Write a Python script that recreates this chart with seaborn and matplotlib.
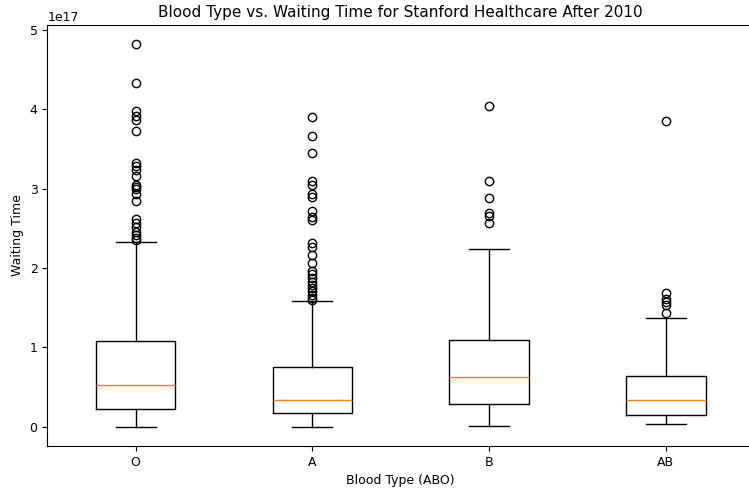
import numpy as np
import matplotlib
matplotlib.use("Agg")
import matplotlib.pyplot as plt
import seaborn as sns

sns.reset_defaults()
plt.rcParams["font.size"] = 9
plt.rcParams["axes.titlesize"] = 11

categories = ["O", "A", "B", "AB"]
scale = 1e17
whisker_low = [0.0, 0.004, 0.013, 0.038]
q1 = [0.227, 0.173, 0.29, 0.151]
median = [0.53, 0.34, 0.634, 0.344]
q3 = [1.085, 0.748, 1.096, 0.642]
whisker_high = [2.33, 1.59, 2.24, 1.365]

fliers_O = [4.82, 4.33, 3.98, 3.92, 3.87, 3.72, 3.32, 3.28, 3.24, 3.16, 3.05, 3.02,
            3.00, 2.93, 2.84, 2.62, 2.57, 2.52, 2.46, 2.42, 2.38, 2.35]
fliers_A = [3.90, 3.66, 3.45, 3.10, 3.05, 2.93, 2.90, 2.72, 2.64, 2.60, 2.31, 2.26,
            2.17, 2.06, 1.96, 1.92, 1.88, 1.83, 1.79, 1.75, 1.71, 1.66, 1.62, 1.60]
fliers_B = [4.04, 3.10, 2.88, 2.69, 2.66, 2.57]
fliers_AB = [3.85, 1.69, 1.61, 1.57, 1.54, 1.44]
fliers = [fliers_O, fliers_A, fliers_B, fliers_AB]

stats = []
for i, c in enumerate(categories):
    stats.append(dict(
        label=c,
        whislo=whisker_low[i] * scale,
        q1=q1[i] * scale,
        med=median[i] * scale,
        q3=q3[i] * scale,
        whishi=whisker_high[i] * scale,
        fliers=np.array(fliers[i]) * scale,
    ))

fig = plt.figure(figsize=(7.49, 4.90), dpi=100)
ax = fig.add_axes([47.3 / 749, 44 / 490, 706.8 / 749, 421 / 490])
ax.bxp(stats)
ax.set_title("Blood Type vs. Waiting Time for Stanford Healthcare After 2010")
ax.set_xlabel("Blood Type (ABO)")
ax.set_ylabel("Waiting Time")
fig.savefig("out.png", dpi=100)
